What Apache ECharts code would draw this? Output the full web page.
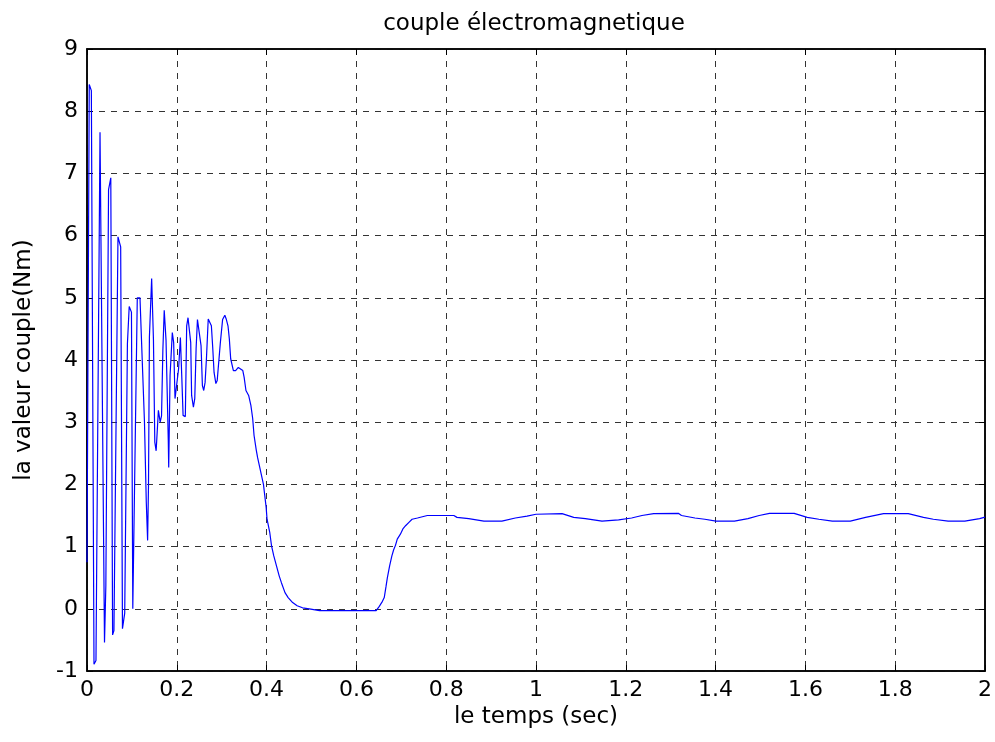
<!DOCTYPE html>
<html>
<head>
<meta charset="utf-8">
<script src="https://cdn.jsdelivr.net/npm/echarts@6/dist/echarts.min.js"></script>
<style>html,body{margin:0;padding:0;background:#fff}#c{width:995px;height:742px}</style>
</head>
<body>
<div id="c"></div>
<script>
var titleText = 'couple électromagnetique';
var xName = 'le temps (sec)';
var yName = 'la valeur couple(Nm)';
var timeSec = [0,0.005,0.0097,0.0156,0.02,0.029,0.039,0.042,0.048,0.053,0.057,0.06,0.069,0.075,0.079,0.084,0.09,0.094,0.099,0.102,0.106,0.112,0.118,0.124,0.128,0.132,0.135,0.137,0.139,0.144,0.148,0.151,0.154,0.159,0.163,0.166,0.169,0.172,0.176,0.181,0.182,0.185,0.19,0.193,0.196,0.2,0.204,0.208,0.211,0.214,0.219,0.222,0.225,0.228,0.231,0.233,0.237,0.24,0.243,0.246,0.249,0.254,0.257,0.26,0.263,0.266,0.27,0.274,0.277,0.28,0.283,0.287,0.29,0.297,0.302,0.307,0.31,0.314,0.317,0.32,0.323,0.326,0.331,0.337,0.341,0.347,0.35,0.354,0.36,0.365,0.369,0.372,0.377,0.38,0.393,0.399,0.401,0.407,0.411,0.416,0.422,0.428,0.433,0.441,0.448,0.458,0.468,0.48,0.495,0.518,0.644,0.651,0.658,0.662,0.666,0.669,0.674,0.679,0.683,0.687,0.691,0.698,0.704,0.71,0.717,0.724,0.736,0.747,0.758,0.784,0.817,0.824,0.85,0.884,0.924,0.954,0.98,1.0,1.058,1.084,1.11,1.147,1.184,1.213,1.236,1.262,1.317,1.324,1.354,1.376,1.401,1.442,1.472,1.497,1.52,1.575,1.604,1.63,1.66,1.7,1.734,1.774,1.829,1.863,1.885,1.918,1.955,1.988,2.0];
var torque = [0.75,8.43,8.33,-0.89,-0.83,7.66,-0.54,0.38,6.74,6.93,-0.42,-0.35,5.98,5.82,-0.32,-0.07,4.26,4.86,4.77,0.0,0.03,5.0,5.0,3.8,3.0,1.72,1.1,2.0,4.37,5.31,4.32,2.68,2.54,3.19,3.0,3.1,4.17,4.8,4.32,2.72,2.27,3.75,4.44,4.28,3.38,3.35,3.86,4.36,3.75,3.11,3.09,4.55,4.68,4.71,4.28,3.43,3.24,3.38,4.18,4.65,4.66,4.23,3.59,3.51,3.64,4.02,4.66,4.68,4.55,4.2,3.8,3.62,3.67,4.28,4.65,4.72,4.66,4.55,4.34,4.02,4.0,3.83,3.83,3.88,3.88,3.83,3.72,3.51,3.43,3.27,3.06,2.79,2.55,2.43,2.0,1.63,1.44,1.23,1.01,0.85,0.69,0.53,0.42,0.26,0.18,0.1,0.05,0.016,0.0,-0.03,-0.03,0.04,0.12,0.18,0.36,0.5,0.69,0.85,0.95,1.02,1.12,1.2,1.29,1.34,1.39,1.44,1.46,1.48,1.5,1.5,1.5,1.47,1.45,1.41,1.41,1.46,1.49,1.52,1.53,1.47,1.45,1.41,1.43,1.46,1.5,1.53,1.535,1.5,1.46,1.44,1.41,1.41,1.45,1.5,1.535,1.535,1.47,1.44,1.41,1.41,1.47,1.53,1.53,1.47,1.44,1.41,1.41,1.45,1.475];

var pts = timeSec.map(function(t,i){return [t, torque[i]];});
var font = 'DejaVu Sans, Verdana, sans-serif';
var fs = 22;
var fsName = 23;
var gridLine = {show:true, lineStyle:{color:'#333', type:[6,6], width:1}};
var chart = echarts.init(document.getElementById('c'), null, {renderer:'canvas'});
chart.setOption({
  animation:false,
  backgroundColor:'#fff',
  title:{text:titleText, left:529, top:8, textAlign:'center',
    textStyle:{fontFamily:font, fontSize:fsName, fontWeight:'normal', color:'#000'}},
  grid:{left:87, right:10, top:49, bottom:71, show:true, borderColor:'#000', borderWidth:1.5, backgroundColor:'#fff'},
  xAxis:[{
    type:'value', min:0, max:2, interval:0.2, position:'bottom',
    name:xName, nameLocation:'middle', nameGap:34,
    nameTextStyle:{fontFamily:font, fontSize:fsName, color:'#000'},
    axisLine:{show:true, onZero:false, lineStyle:{color:'#000', width:1.5}},
    axisTick:{show:true, inside:true, length:6, lineStyle:{color:'#000'}},
    axisLabel:{fontFamily:font, fontSize:fs, color:'#000', margin:8,
      formatter:function(v){return String(Math.round(v*10)/10);}},
    splitLine:gridLine
  },{
    type:'value', min:0, max:2, interval:0.2, position:'top',
    axisLine:{show:true, onZero:false, lineStyle:{color:'#000', width:1.5}},
    axisTick:{show:true, inside:true, length:6, lineStyle:{color:'#000'}},
    axisLabel:{show:false}, splitLine:{show:false}
  }],
  yAxis:[{
    type:'value', min:-1, max:9, interval:1, position:'left',
    name:yName, nameLocation:'middle', nameGap:51, nameRotate:90,
    nameTextStyle:{fontFamily:font, fontSize:fsName, color:'#000'},
    axisLine:{show:true, onZero:false, lineStyle:{color:'#000', width:1.5}},
    axisTick:{show:true, inside:true, length:6, lineStyle:{color:'#000'}},
    axisLabel:{fontFamily:font, fontSize:fs, color:'#000', margin:9},
    splitLine:gridLine
  },{
    type:'value', min:-1, max:9, interval:1, position:'right',
    axisLine:{show:true, onZero:false, lineStyle:{color:'#000', width:1.5}},
    axisTick:{show:true, inside:true, length:6, lineStyle:{color:'#000'}},
    axisLabel:{show:false}, splitLine:{show:false}
  }],
  series:[{
    type:'line', data:pts, xAxisIndex:0, yAxisIndex:0,
    showSymbol:false, symbol:'none',
    lineStyle:{color:'#0000ff', width:1.2}
  }]
});
</script>
</body>
</html>
